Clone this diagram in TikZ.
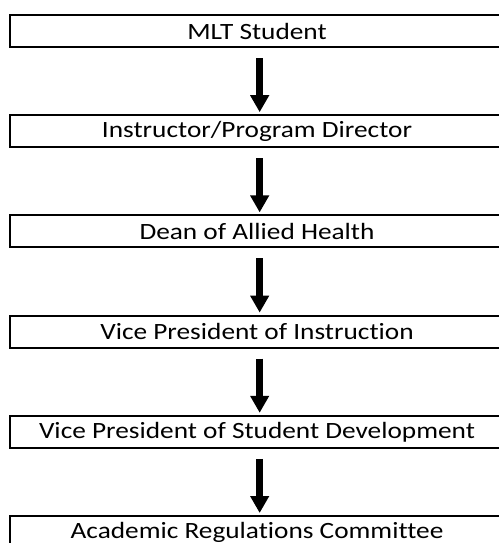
\documentclass[tikz,border=0pt]{standalone}
\usepackage{fontspec}
\setmainfont{Carlito}[FakeStretch=1.17, Ligatures=NoCommon]
\usepackage{tikz}
\usetikzlibrary{arrows.meta, positioning}
\tikzset{>=stealth}
\tikzset{stepbox/.style={draw, line width=1.5pt, minimum width=370pt, minimum height=24pt,
  inner sep=0pt, font=\fontsize{17.5}{19}\selectfont},
  flowarrow/.style={line width=5.25pt, -{Triangle[width=13.5pt,length=12.75pt]}}}

\begin{document}
\begin{tikzpicture}[x=0.75pt,y=-0.75pt]
\path [use as bounding box, clip] (0,0) rectangle (499,543);
\node [stepbox] (student) at (257,31) {MLT Student};
\node [stepbox] (director) at (257,131.2) {Instructor/Program Director};
\node [stepbox] (dean) at (257,231.4) {Dean of Allied Health};
\node [stepbox] (vpinstr) at (257,331.6) {Vice President of Instruction};
\node [stepbox] (vpdev) at (257,431.8) {Vice President of Student Development};
\node [stepbox] (committee) at (257,532) {Academic Regulations Committee};
\draw [flowarrow] ([xshift=2pt,yshift=-7.5pt]student.south) -- ([xshift=2pt,yshift=1.5pt]director.north);
\draw [flowarrow] ([xshift=2pt,yshift=-7.5pt]director.south) -- ([xshift=2pt,yshift=1.5pt]dean.north);
\draw [flowarrow] ([xshift=2pt,yshift=-7.5pt]dean.south) -- ([xshift=2pt,yshift=1.5pt]vpinstr.north);
\draw [flowarrow] ([xshift=2pt,yshift=-7.5pt]vpinstr.south) -- ([xshift=2pt,yshift=1.5pt]vpdev.north);
\draw [flowarrow] ([xshift=2pt,yshift=-7.5pt]vpdev.south) -- ([xshift=2pt,yshift=1.5pt]committee.north);
\end{tikzpicture}
\end{document}
